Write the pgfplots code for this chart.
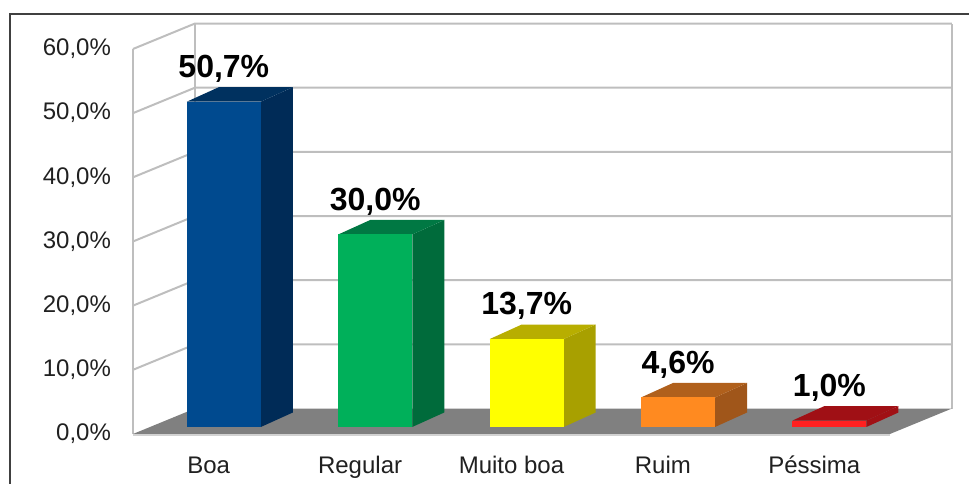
\documentclass[border=0pt]{standalone}
\usepackage{fontspec}
\setmainfont{Liberation Sans}
\usepackage{pgfplots}
\pgfplotsset{compat=1.18}

\definecolor{gridc}{HTML}{BEBEBE}
\definecolor{floorc}{HTML}{808080}
\definecolor{framec}{HTML}{404040}
\definecolor{tickc}{HTML}{202020}
\definecolor{boaF}{HTML}{004A8F}
\definecolor{boaS}{HTML}{002B57}
\definecolor{boaT}{HTML}{00315F}
\definecolor{regF}{HTML}{00B05A}
\definecolor{regS}{HTML}{006B3B}
\definecolor{regT}{HTML}{007843}
\definecolor{mbF}{HTML}{FFFF00}
\definecolor{mbS}{HTML}{A8A000}
\definecolor{mbT}{HTML}{B8AE00}
\definecolor{ruF}{HTML}{FF8A20}
\definecolor{ruS}{HTML}{A0561A}
\definecolor{ruT}{HTML}{B0601C}
\definecolor{peF}{HTML}{FF2020}
\definecolor{peS}{HTML}{A01015}
\definecolor{peT}{HTML}{A01015}

% geometry (axis units: 1 category = 151.4px, 1% = 6.4167px)
\def\bw{0.489}   % bar front width
\def\bfx{0.10}   % bar front centre offset
\def\bfy{1.09}   % bar front bottom offset (%)
\def\sdx{0.2114} % bar depth x
\def\sdy{2.26}   % bar depth y (%)

\tikzset{dlabel/.style={font=\fontsize{16}{18}\selectfont\bfseries, text=black, inner sep=0pt}}

\newcommand\tdbar[6]{%
  \pgfmathsetmacro\xl{#1+\bfx-\bw/2}%
  \pgfmathsetmacro\xr{#1+\bfx+\bw/2}%
  \pgfmathsetmacro\xc{#1+\bfx}%
  \pgfmathsetmacro\xlb{\xl+\sdx}%
  \pgfmathsetmacro\xrb{\xr+\sdx}%
  \pgfmathsetmacro\yb{\bfy}%
  \pgfmathsetmacro\yt{#2+\bfy}%
  \pgfmathsetmacro\ybb{\bfy+\sdy}%
  \pgfmathsetmacro\ytb{#2+\bfy+\sdy}%
  \pgfmathsetmacro\yl{#2+\bfy+\sdy+1.5}%
  \addplot[fill=#4,draw=none] coordinates {(\xr,\yb) (\xrb,\ybb) (\xrb,\ytb) (\xr,\yt)} --cycle;
  \addplot[fill=#5,draw=none] coordinates {(\xl,\yt) (\xr,\yt) (\xrb,\ytb) (\xlb,\ytb)} --cycle;
  \addplot[fill=#3,draw=none] coordinates {(\xl,\yb) (\xr,\yb) (\xr,\yt) (\xl,\yt)} --cycle;
  \edef\temp{\noexpand\node[dlabel, anchor=base] at (axis cs:\xc,\yl) {#6};}\temp
}

\begin{document}
\begin{tikzpicture}
\begin{axis}[
  x=75.7pt, y=3.208333pt,
  xmin=-0.5, xmax=4.5, ymin=0, ymax=60,
  clip=false,
  axis line style={draw=none},
  major tick length=0pt,
  xtick={0,1,2,3,4},
  xticklabels={Boa,Regular,Muito boa,Ruim,Péssima},
  ytick={0,10,20,30,40,50,60},
  yticklabels={{0,0\%},{10,0\%},{20,0\%},{30,0\%},{40,0\%},{50,0\%},{60,0\%}},
  tick label style={font=\fontsize{12}{14}\selectfont, text=tickc},
  xticklabel style={anchor=base, yshift=-20pt},
  yticklabel style={anchor=east, xshift=-7.5pt},
]
% walls and grid
\addplot[gridc, line width=1pt] coordinates {(-0.5,0) (-0.5,60)};
\addplot[gridc, line width=1pt] coordinates {(-0.0905,3.97) (-0.0905,63.97)};
\addplot[gridc, line width=1pt] coordinates {(4.9095,3.97) (4.9095,63.97)};
\addplot[gridc, line width=1pt] coordinates {(-0.5,10) (-0.0905,13.97) (4.9095,13.97)};
\addplot[gridc, line width=1pt] coordinates {(-0.5,20) (-0.0905,23.97) (4.9095,23.97)};
\addplot[gridc, line width=1pt] coordinates {(-0.5,30) (-0.0905,33.97) (4.9095,33.97)};
\addplot[gridc, line width=1pt] coordinates {(-0.5,40) (-0.0905,43.97) (4.9095,43.97)};
\addplot[gridc, line width=1pt] coordinates {(-0.5,50) (-0.0905,53.97) (4.9095,53.97)};
\addplot[gridc, line width=1pt] coordinates {(-0.5,60) (-0.0905,63.97) (4.9095,63.97)};
% floor
\addplot[fill=floorc, draw=none] coordinates {(-0.5,0) (4.5,0) (4.9095,3.97) (-0.0905,3.97)} --cycle;
\addplot[gridc!70, line width=0.6pt] coordinates {(-0.5,-0.15) (4.5,-0.15)};
% bars
\tdbar{0}{50.7}{boaF}{boaS}{boaT}{50,7\%}
\tdbar{1}{30.0}{regF}{regS}{regT}{30,0\%}
\tdbar{2}{13.7}{mbF}{mbS}{mbT}{13,7\%}
\tdbar{3}{4.6}{ruF}{ruS}{ruT}{4,6\%}
\tdbar{4}{1.0}{peF}{peS}{peT}{1,0\%}
% outer frame
\draw[framec, line width=1pt] (axis cs:-1.3124,-7.8) -- (axis cs:-1.3124,65.454) -- (axis cs:5.03,65.454);
\coordinate (BL) at (axis cs:-1.3785,-7.792);
\coordinate (TR) at (axis cs:5.0218,67.636);
\end{axis}
\pgfresetboundingbox
\path[use as bounding box] (BL) rectangle (TR);
\end{tikzpicture}
\end{document}
